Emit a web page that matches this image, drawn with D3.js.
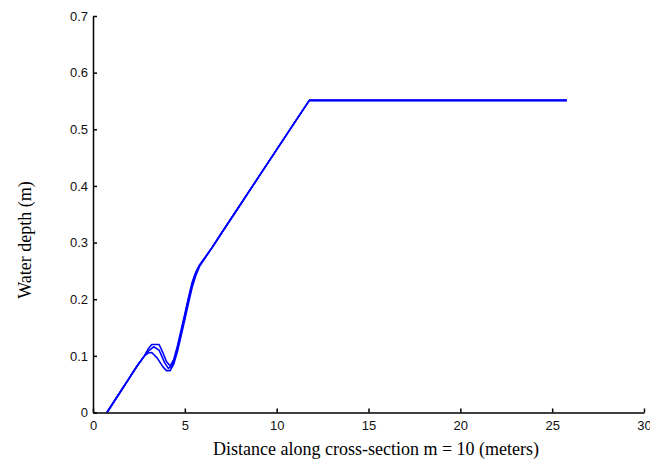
<!DOCTYPE html>
<html>
<head>
<meta charset="utf-8">
<script src="https://cdn.jsdelivr.net/npm/d3@7/dist/d3.min.js"></script>
<style>
  html, body { margin: 0; padding: 0; background: #fff; }
  svg { display: block; }
</style>
</head>
<body>
<svg id="chart" width="650" height="462"></svg>
<script>
// Axis ticks
const xTicks = [0, 5, 10, 15, 20, 25, 30];
const yTicks = [0, 0.1, 0.2, 0.3, 0.4, 0.5, 0.6, 0.7];

// Shared shoreline approach and offshore shelf (distance m, depth m)
const approach = [[0.76, 0], [1.2, 0.022], [1.6, 0.042], [2.0, 0.062], [2.4, 0.082], [2.8, 0.100]];
const shelf = [[5.8, 0.260], [6.5, 0.292], [7.0, 0.317], [8.0, 0.366], [9.0, 0.415],
               [10.0, 0.464], [11.0, 0.513], [11.78, 0.551], [25.8, 0.551]];

// Bar-and-trough section for successive profiles
const profileA = [[2.8, 0.100], [3.0, 0.112], [3.2, 0.120], [3.6, 0.120], [3.8, 0.106], [4.0, 0.090],
                  [4.2, 0.082], [4.4, 0.094], [4.6, 0.118], [4.8, 0.146], [5.0, 0.174], [5.2, 0.203],
                  [5.4, 0.230], [5.6, 0.248], [5.8, 0.260]];
const profileB = [[2.8, 0.100], [3.0, 0.105], [3.2, 0.106], [3.5, 0.096], [3.8, 0.081], [4.0, 0.074],
                  [4.2, 0.074], [4.4, 0.086], [4.6, 0.108], [4.8, 0.136], [5.0, 0.164], [5.2, 0.193],
                  [5.4, 0.221], [5.6, 0.242], [5.8, 0.258]];
const profileC = [[2.8, 0.100], [3.0, 0.108], [3.3, 0.116], [3.6, 0.110], [3.9, 0.088], [4.1, 0.078],
                  [4.3, 0.082], [4.5, 0.100], [4.7, 0.127], [4.9, 0.156], [5.1, 0.186], [5.3, 0.214],
                  [5.5, 0.238], [5.7, 0.254], [5.8, 0.260]];
const profiles = [profileA, profileB, profileC];

const svg = d3.select("#chart");
const x = d3.scaleLinear().domain([0, 30]).range([93, 644]);
const y = d3.scaleLinear().domain([0, 0.7]).range([412.5, 16]);

// Profiles
const line = d3.line().x(d => x(d[0])).y(d => y(d[1]));
svg.append("g")
  .selectAll("path")
  .data(profiles)
  .join("path")
  .attr("d", p => line(approach.concat(p.slice(1), shelf.slice(1))))
  .attr("fill", "none")
  .attr("stroke", "#0000ff")
  .attr("stroke-width", 1.6)
  .attr("stroke-linejoin", "round");

// Axes with inward ticks
const xAxis = d3.axisBottom(x).tickValues(xTicks).tickFormat(d3.format("d"))
  .tickSizeInner(-4).tickSizeOuter(0).tickPadding(8);
const yAxis = d3.axisLeft(y).tickValues(yTicks).tickFormat(d => d === 0 ? "0" : d3.format(".1f")(d))
  .tickSizeInner(-4).tickSizeOuter(0).tickPadding(5);

const gx = svg.append("g").attr("transform", `translate(0,${y(0)})`).call(xAxis);
const gy = svg.append("g").attr("transform", `translate(${x(0)},0)`).call(yAxis);

[gx, gy].forEach(g => {
  g.select(".domain").attr("stroke", "#000").attr("stroke-width", 1.5);
  g.selectAll(".tick line").attr("stroke", "#000").attr("stroke-width", 1.5);
  g.selectAll(".tick text")
    .attr("fill", "#111")
    .style("font-family", "'Liberation Sans', Arial, sans-serif")
    .style("font-size", "13px");
});

// Axis titles
svg.append("text")
  .attr("x", 376).attr("y", 455)
  .attr("text-anchor", "middle")
  .style("font-family", "'Liberation Serif', 'Times New Roman', serif")
  .style("font-size", "18px")
  .text("Distance along cross-section m = 10 (meters)");

svg.append("text")
  .attr("transform", "translate(31,240) rotate(-90)")
  .attr("text-anchor", "middle")
  .style("font-family", "'Liberation Serif', 'Times New Roman', serif")
  .style("font-size", "18px")
  .text("Water depth (m)");
</script>
</body>
</html>
